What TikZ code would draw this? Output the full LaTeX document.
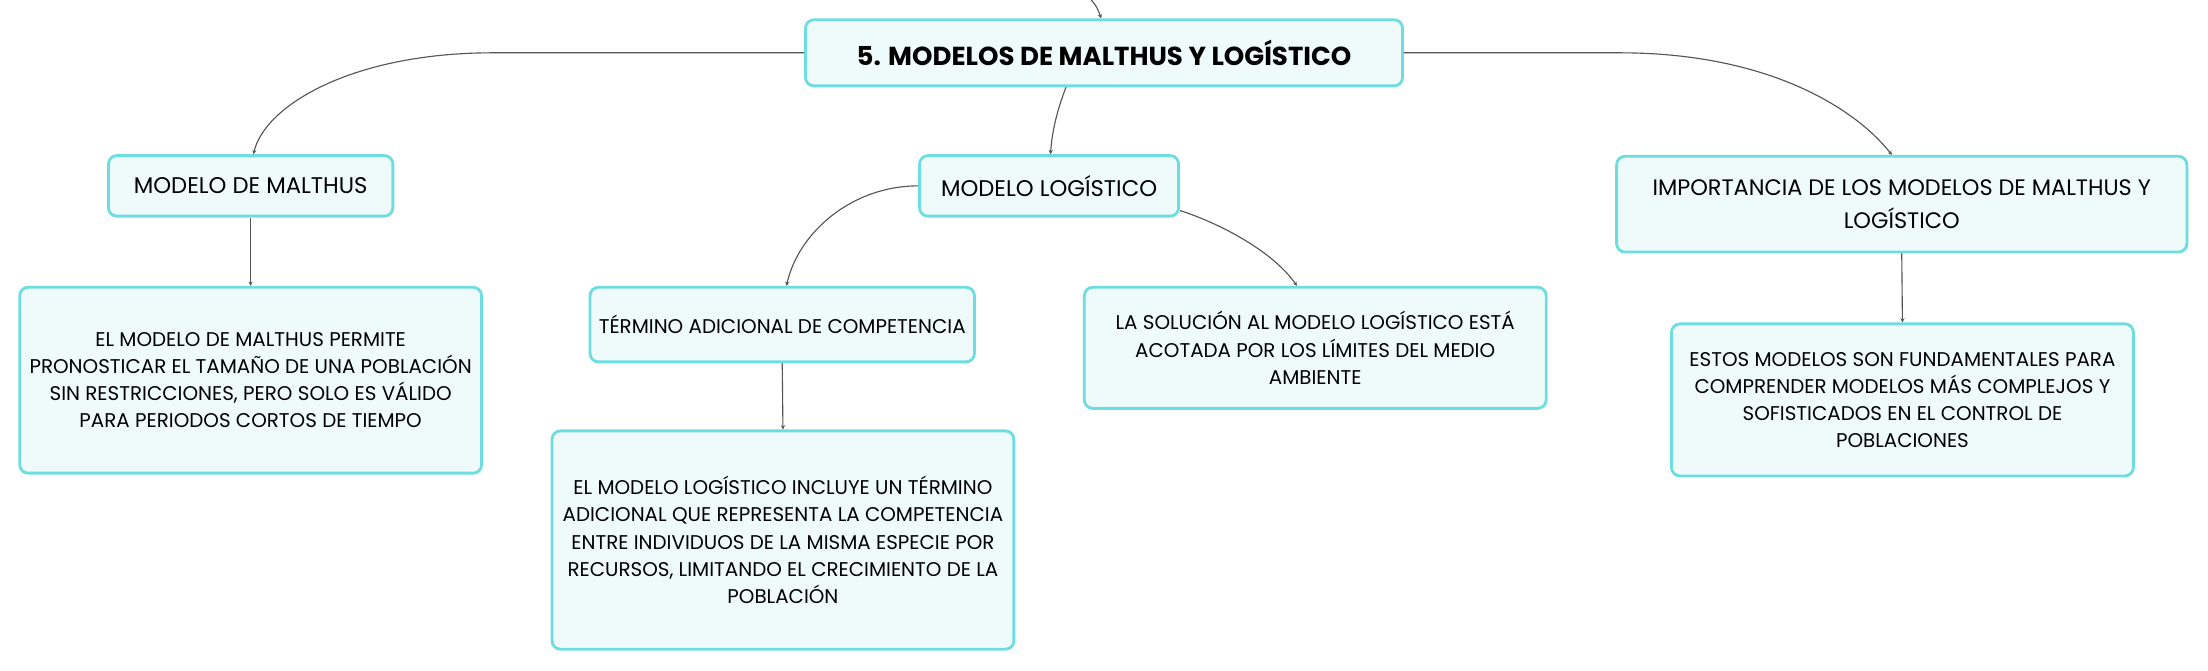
\documentclass[tikz,border=0pt]{standalone}
\usepackage{fontspec}
\setmainfont{Poppins}
\usetikzlibrary{arrows.meta}
\definecolor{bordc}{HTML}{6EDDE0}
\definecolor{fillc}{HTML}{EFFBFB}
\definecolor{linec}{HTML}{555555}
\begin{document}
\begin{tikzpicture}[x=1pt,y=-1pt,
  box/.style={draw=bordc, fill=fillc, line width=2pt, rounded corners=6pt, align=center, inner sep=0pt, font=\fontsize{14.1}{19.3}\selectfont},
  conn/.style={draw=linec, line width=0.8pt, -{Stealth[length=3pt,width=3pt]}}]
\useasboundingbox (0,0) rectangle (1568,476);
\node[box, minimum width=424pt, minimum height=47pt, font=\bfseries\fontsize{18.5}{22}\selectfont] (root) at (784,37.5) {5. MODELOS DE MALTHUS Y LOGÍSTICO};
\node[box, minimum width=202pt, minimum height=43pt, font=\fontsize{16.1}{20}\selectfont] (malthus) at (178,132) {MODELO DE MALTHUS};
\node[box, minimum width=328pt, minimum height=132pt] (mdesc) at (178,270) {EL MODELO DE MALTHUS PERMITE\\PRONOSTICAR EL TAMAÑO DE UNA POBLACIÓN\\SIN RESTRICCIONES, PERO SOLO ES VÁLIDO\\PARA PERIODOS CORTOS DE TIEMPO};
\node[box, minimum width=184pt, minimum height=43pt, font=\fontsize{16.1}{20}\selectfont] (logis) at (745,132) {MODELO LOGÍSTICO};
\node[box, minimum width=273pt, minimum height=53pt] (term) at (555.5,230.5) {TÉRMINO ADICIONAL DE COMPETENCIA};
\node[box, minimum width=328pt, minimum height=155pt] (ldesc) at (556,383.5) {EL MODELO LOGÍSTICO INCLUYE UN TÉRMINO\\ADICIONAL QUE REPRESENTA LA COMPETENCIA\\ENTRE INDIVIDUOS DE LA MISMA ESPECIE POR\\RECURSOS, LIMITANDO EL CRECIMIENTO DE LA\\POBLACIÓN};
\node[box, minimum width=328pt, minimum height=86pt] (sol) at (934,247) {LA SOLUCIÓN AL MODELO LOGÍSTICO ESTÁ\\ACOTADA POR LOS LÍMITES DEL MEDIO\\AMBIENTE};
\node[box, minimum width=405pt, minimum height=68pt, font=\fontsize{15.9}{23}\selectfont] (imp) at (1350.5,145) {IMPORTANCIA DE LOS MODELOS DE MALTHUS Y\\LOGÍSTICO};
\node[box, minimum width=328pt, minimum height=108pt] (estos) at (1351,284) {ESTOS MODELOS SON FUNDAMENTALES PARA\\COMPRENDER MODELOS MÁS COMPLEJOS Y\\SOFISTICADOS EN EL CONTROL DE\\POBLACIONES};
\coordinate (topin) at (775,0);
\draw[conn] (topin) .. controls (779,5) .. ([xshift=-2pt]root.north);
\draw[conn] (root.west) -- (350,37.5) .. controls (250,37.5) and (188,75) .. ([xshift=2pt]malthus.north);
\draw[conn] (root.east) -- (1150,37.5) .. controls (1260,37.5) and (1320,80) .. ([xshift=-7pt]imp.north);
\draw[conn] ([xshift=-27pt]root.south) .. controls (750,80) and (747,95) .. ([xshift=1pt]logis.north);
\draw[conn] (logis.west) .. controls (605,132) and (567,165) .. ([xshift=3pt]term.north);
\draw[conn] ([yshift=5pt]logis.south east) .. controls (870,160) and (905,180) .. ([xshift=-13pt]sol.north);
\draw[conn] (malthus.south) -- (mdesc.north);
\draw[conn] (term.south) -- (ldesc.north);
\draw[conn] (imp.south) -- (estos.north);
\end{tikzpicture}
\end{document}
